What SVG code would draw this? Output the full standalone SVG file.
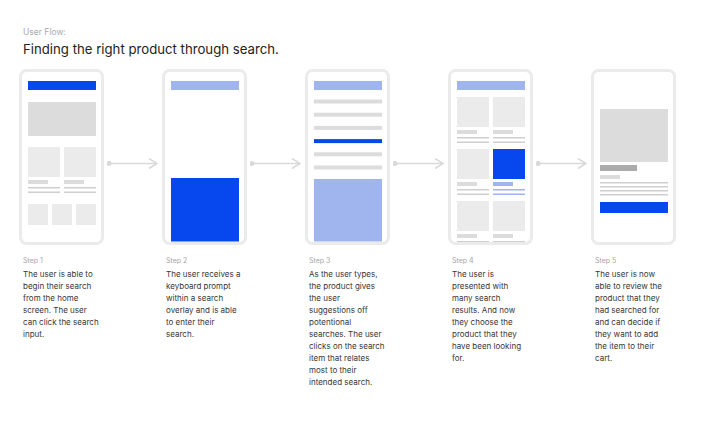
<svg xmlns="http://www.w3.org/2000/svg" width="720" height="434" viewBox="0 0 720 434">
<style>
.frame{fill:#fff;stroke:#ebebeb;stroke-width:3}
.blue{fill:#0648ed}
.lblue{fill:#a0b4ee}
.g1{fill:#dcdcdc}
.g2{fill:#ebebeb}
.ln{fill:#cfcfcf}
.dk{fill:#ababab}
.conn{stroke:#d9d9d9;stroke-width:1.5;fill:none}
text{font-family:Inter,"Liberation Sans",sans-serif}
.step{font-size:7px;fill:#a6a6a6}
.body{font-size:8px;fill:#363636}
</style>
<defs>
<clipPath id="inner"><rect x="0" y="72" width="720" height="170"/></clipPath>
<marker id="head" viewBox="0 0 10 12" refX="9" refY="6" markerWidth="10" markerHeight="12" markerUnits="userSpaceOnUse" orient="auto"><path d="M1,1 L9,6 L1,11" fill="none" stroke="#d9d9d9" stroke-width="1.5"/></marker>
<marker id="dot" viewBox="0 0 6 6" refX="3" refY="3" markerWidth="5" markerHeight="5" markerUnits="userSpaceOnUse"><circle cx="3" cy="3" r="3" fill="#d9d9d9"/></marker>
</defs>
<rect width="720" height="434" fill="#fff"/>
<text x="23" y="35" style="font-size:8.5px;fill:#aaa">User Flow:</text>
<text x="23" y="54" style="font-size:13.2px;fill:#222">Finding the right product through search.</text>

<g id="connectors">
<line class="conn" x1="109" y1="163.5" x2="157" y2="163.5" marker-start="url(#dot)" marker-end="url(#head)"/>
<line class="conn" x1="252" y1="163.5" x2="300" y2="163.5" marker-start="url(#dot)" marker-end="url(#head)"/>
<line class="conn" x1="395" y1="163.5" x2="443" y2="163.5" marker-start="url(#dot)" marker-end="url(#head)"/>
<line class="conn" x1="538" y1="163.5" x2="586" y2="163.5" marker-start="url(#dot)" marker-end="url(#head)"/>
</g>

<g id="step1">
<rect class="frame" x="20.5" y="70.5" width="82" height="173" rx="6"/>
<rect class="blue" x="28" y="81" width="68" height="9"/>
<rect class="g1" x="28" y="102" width="68" height="34"/>
<rect class="g2" x="28" y="147" width="32" height="30"/>
<rect class="g2" x="64" y="147" width="32" height="30"/>
<rect class="g1" x="28" y="180" width="20" height="4"/>
<rect class="g1" x="64" y="180" width="20" height="4"/>
<rect class="ln" x="28" y="187" width="32" height="1.5"/>
<rect class="ln" x="64" y="187" width="32" height="1.5"/>
<rect class="ln" x="28" y="191.5" width="32" height="1.5"/>
<rect class="ln" x="64" y="191.5" width="32" height="1.5"/>
<rect class="g2" x="28" y="204" width="20" height="21"/>
<rect class="g2" x="52" y="204" width="20" height="21"/>
<rect class="g2" x="76" y="204" width="20" height="21"/>
<text class="step" x="23" y="263">Step 1</text>
<text class="body" x="23" y="277">The user is able to<tspan x="23" dy="12">begin their search</tspan><tspan x="23" dy="12">from the home</tspan><tspan x="23" dy="12">screen. The user</tspan><tspan x="23" dy="12">can click the search</tspan><tspan x="23" dy="12">input.</tspan></text>
</g>

<g id="step2">
<rect class="frame" x="163.5" y="70.5" width="82" height="173" rx="6"/>
<rect class="lblue" x="171" y="81" width="68" height="9"/>
<rect class="blue" x="171" y="178" width="68" height="63.5"/>
<text class="step" x="166" y="263">Step 2</text>
<text class="body" x="166" y="277">The user receives a<tspan x="166" dy="12">keyboard prompt</tspan><tspan x="166" dy="12">within a search</tspan><tspan x="166" dy="12">overlay and is able</tspan><tspan x="166" dy="12">to enter their</tspan><tspan x="166" dy="12">search.</tspan></text>
</g>

<g id="step3">
<rect class="frame" x="306.5" y="70.5" width="82" height="173" rx="6"/>
<rect class="lblue" x="314" y="81" width="68" height="9"/>
<rect class="g1" x="314" y="99.5" width="68" height="4"/>
<rect class="g1" x="314" y="112.7" width="68" height="4"/>
<rect class="g1" x="314" y="125.9" width="68" height="4"/>
<rect class="blue" x="314" y="139.1" width="68" height="4"/>
<rect class="g1" x="314" y="152.3" width="68" height="4"/>
<rect class="g1" x="314" y="165.5" width="68" height="4"/>
<rect class="lblue" x="314" y="179" width="68" height="62.5"/>
<text class="step" x="309" y="263">Step 3</text>
<text class="body" x="309" y="277">As the user types,<tspan x="309" dy="12">the product gives</tspan><tspan x="309" dy="12">the user</tspan><tspan x="309" dy="12">suggestions off</tspan><tspan x="309" dy="12">potentional</tspan><tspan x="309" dy="12">searches. The user</tspan><tspan x="309" dy="12">clicks on the search</tspan><tspan x="309" dy="12">item that relates</tspan><tspan x="309" dy="12">most to their</tspan><tspan x="309" dy="12">intended search.</tspan></text>
</g>

<g id="step4">
<rect class="frame" x="449.5" y="70.5" width="82" height="173" rx="6"/>
<rect class="lblue" x="457" y="81" width="68" height="9"/>
<g clip-path="url(#inner)">
<rect class="g2" x="457" y="97" width="32" height="30"/>
<rect class="g2" x="493" y="97" width="32" height="30"/>
<rect class="g1" x="457" y="130" width="20" height="4"/>
<rect class="g1" x="493" y="130" width="20" height="4"/>
<rect class="ln" x="457" y="137" width="32" height="1.5"/>
<rect class="ln" x="493" y="137" width="32" height="1.5"/>
<rect class="ln" x="457" y="141.5" width="32" height="1.5"/>
<rect class="ln" x="493" y="141.5" width="32" height="1.5"/>
<rect class="g2" x="457" y="149" width="32" height="30"/>
<rect class="blue" x="493" y="149" width="32" height="30"/>
<rect class="g1" x="457" y="182" width="20" height="4"/>
<rect class="lblue" x="493" y="182" width="20" height="4"/>
<rect class="ln" x="457" y="189" width="32" height="1.5"/>
<rect class="lblue" x="493" y="189" width="32" height="1.5"/>
<rect class="ln" x="457" y="193.5" width="32" height="1.5"/>
<rect class="lblue" x="493" y="193.5" width="32" height="1.5"/>
<rect class="g2" x="457" y="201" width="32" height="30"/>
<rect class="g2" x="493" y="201" width="32" height="30"/>
<rect class="g1" x="457" y="234" width="20" height="4"/>
<rect class="g1" x="493" y="234" width="20" height="4"/>
<rect class="ln" x="457" y="241" width="32" height="1.5"/>
<rect class="ln" x="493" y="241" width="32" height="1.5"/>
</g>
<text class="step" x="452" y="263">Step 4</text>
<text class="body" x="452" y="277">The user is<tspan x="452" dy="12">presented with</tspan><tspan x="452" dy="12">many search</tspan><tspan x="452" dy="12">results. And now</tspan><tspan x="452" dy="12">they choose the</tspan><tspan x="452" dy="12">product that they</tspan><tspan x="452" dy="12">have been looking</tspan><tspan x="452" dy="12">for.</tspan></text>
</g>

<g id="step5">
<rect class="frame" x="592.5" y="70.5" width="82" height="173" rx="6"/>
<rect class="g1" x="600" y="109" width="68" height="53"/>
<rect class="dk" x="600" y="165" width="37" height="6"/>
<rect class="g1" x="600" y="175" width="20" height="4"/>
<rect class="ln" x="600" y="182" width="68" height="1.5"/>
<rect class="ln" x="600" y="186" width="68" height="1.5"/>
<rect class="ln" x="600" y="190" width="68" height="1.5"/>
<rect class="ln" x="600" y="194" width="68" height="1.5"/>
<rect class="blue" x="600" y="202" width="68" height="11"/>
<text class="step" x="595" y="263">Step 5</text>
<text class="body" x="595" y="277">The user is now<tspan x="595" dy="12">able to review the</tspan><tspan x="595" dy="12">product that they</tspan><tspan x="595" dy="12">had searched for</tspan><tspan x="595" dy="12">and can decide if</tspan><tspan x="595" dy="12">they want to add</tspan><tspan x="595" dy="12">the item to their</tspan><tspan x="595" dy="12">cart.</tspan></text>
</g>
</svg>
